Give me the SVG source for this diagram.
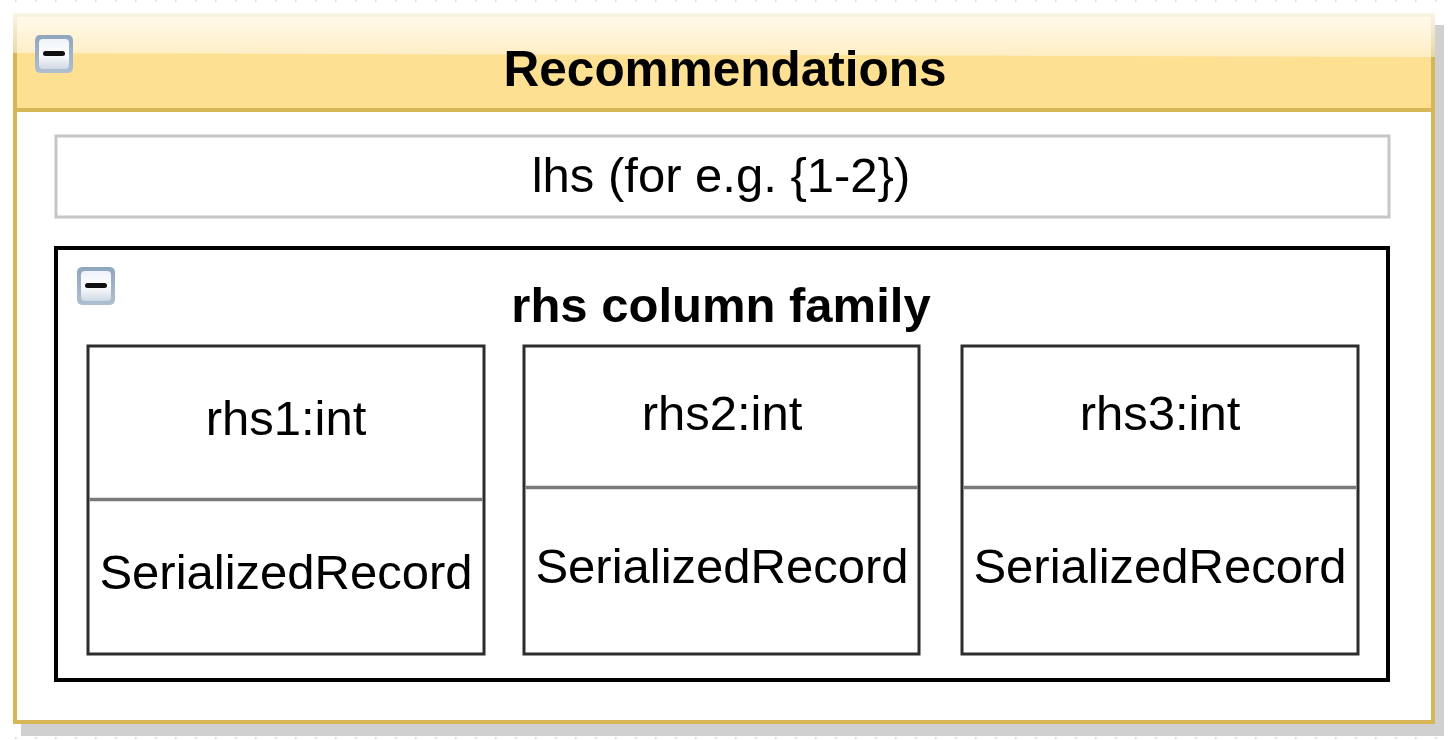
<svg xmlns="http://www.w3.org/2000/svg" width="1454" height="740" viewBox="0 0 1454 740">
<style>
.t{font-family:"Liberation Sans",Arial,Helvetica,sans-serif;fill:#000;text-anchor:middle;font-size:49px}
.b{font-weight:bold}
.box{fill:#fff;stroke:#2d2d2d;stroke-width:3}
.div{stroke:#7a7a7a;stroke-width:3.5}
</style>
<defs>
<linearGradient id="gloss" x1="0" y1="0" x2="0" y2="1">
<stop offset="0" stop-color="#fff" stop-opacity="0.85"/>
<stop offset="1" stop-color="#fff" stop-opacity="0.45"/>
</linearGradient>
<linearGradient id="ic" x1="0" y1="0" x2="0" y2="1">
<stop offset="0" stop-color="#8fa6bf"/>
<stop offset="1" stop-color="#aebfd0"/>
</linearGradient>
<linearGradient id="icin" x1="0" y1="0" x2="0" y2="1">
<stop offset="0" stop-color="#eef3f8"/>
<stop offset="0.5" stop-color="#ffffff"/>
<stop offset="1" stop-color="#cfd8e2"/>
</linearGradient>
<g id="icon">
<rect x="0" y="0" width="38" height="38" rx="5" fill="url(#ic)"/>
<rect x="4" y="4" width="30" height="30" rx="4" fill="url(#icin)"/>
<rect x="8" y="16" width="22" height="5" rx="2.5" fill="#111"/>
</g>
</defs>
<rect width="1454" height="740" fill="#fff"/>
<line x1="15" y1="738" x2="1454" y2="738" stroke="#c8c8c8" stroke-width="1.5" stroke-dasharray="1.5 18.5"/>
<line x1="15" y1="1" x2="1454" y2="1" stroke="#d8d8d8" stroke-width="1.5" stroke-dasharray="1.5 18.5"/>

<g id="recommendations">
<rect x="21" y="25" width="1423" height="711" fill="#d0d0d0"/>
<rect x="15" y="15" width="1418" height="707" fill="#fff" stroke="#d6b656" stroke-width="4"/>
<rect x="15" y="15" width="1418" height="95" fill="#fee093" stroke="#d6b656" stroke-width="4"/>
<path d="M13 13 H1435 V57 L13 53 Z" fill="url(#gloss)"/>
<use href="#icon" x="35" y="35"/>
<text class="t b" x="725" y="86" style="font-size:49.5px">Recommendations</text>
</g>

<g id="lhs">
<rect x="56" y="136" width="1333" height="81" fill="#fff" stroke="#c6c6c6" stroke-width="3"/>
<text class="t" x="721" y="192">lhs (for e.g. {1-2})</text>
</g>

<g id="rhs-column-family">
<rect x="56" y="248" width="1332" height="432" fill="#fff" stroke="#000" stroke-width="4"/>
<use href="#icon" x="77" y="267"/>
<text class="t b" x="721" y="322">rhs column family</text>
</g>

<g id="rhs1">
<rect class="box" x="88" y="346" width="396" height="308"/>
<line class="div" x1="89.5" y1="499.5" x2="482.5" y2="499.5"/>
<text class="t" x="286" y="435">rhs1:int</text>
<text class="t" x="286" y="589">SerializedRecord</text>
</g>

<g id="rhs2">
<rect class="box" x="524" y="346" width="395" height="308"/>
<line class="div" x1="525.5" y1="487.5" x2="917.5" y2="487.5"/>
<text class="t" x="722" y="430">rhs2:int</text>
<text class="t" x="722" y="583">SerializedRecord</text>
</g>

<g id="rhs3">
<rect class="box" x="962" y="346" width="396" height="308"/>
<line class="div" x1="963.5" y1="487.5" x2="1356.5" y2="487.5"/>
<text class="t" x="1160" y="430">rhs3:int</text>
<text class="t" x="1160" y="583">SerializedRecord</text>
</g>

<g id="connectors"></g>
</svg>
